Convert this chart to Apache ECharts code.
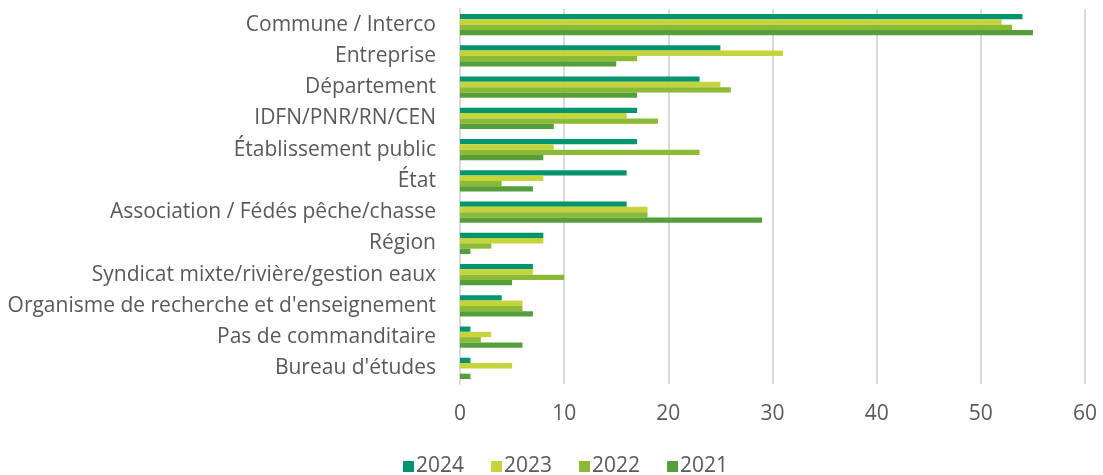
<!DOCTYPE html>
<html>
<head>
<meta charset="utf-8">
<script src="https://cdn.jsdelivr.net/npm/echarts@6/dist/echarts.min.js"></script>
<style>html,body{margin:0;padding:0;background:#fff;}#c{width:1103px;height:475px;}</style>
</head>
<body>
<div id="c"></div>
<script>
var categories = ["Commune / Interco","Entreprise","Département","IDFN/PNR/RN/CEN","Établissement public","État","Association / Fédés pêche/chasse","Région","Syndicat mixte/rivière/gestion eaux","Organisme de recherche et d'enseignement","Pas de commanditaire","Bureau d'études"];
var s2024 = [54,25,23,17,17,16,16,8,7,4,1,1];
var s2023 = [52,31,25,16,9,8,18,8,7,6,3,5];
var s2022 = [53,17,26,19,23,4,18,3,10,6,2,0];
var s2021 = [55,15,17,9,8,7,29,1,5,7,6,1];
var xTicks = [0,10,20,30,40,50,60];

var font = "'Open Sans', 'Liberation Sans', sans-serif";
var chart = echarts.init(document.getElementById('c'));
function mk(name, data, color){
  return {name:name, type:'bar', data:data, barGap:'0%', barCategoryGap:'32%',
    itemStyle:{color:color}};
}
chart.setOption({
  animation:false,
  textStyle:{fontFamily:font},
  grid:{left:460, right:18, top:9, bottom:91, containLabel:false},
  legend:{top:451, left:398, itemWidth:11, itemHeight:11, itemGap:27,
    icon:'rect', textStyle:{fontSize:21, color:'#595959', fontFamily:font, padding:[0,0,0,-3]},
    data:['2024','2023','2022','2021']},
  xAxis:{type:'value', min:xTicks[0], max:xTicks[xTicks.length-1], interval:10,
    axisLine:{show:false}, axisTick:{show:false},
    axisLabel:{fontSize:21, color:'#595959', margin:20},
    splitLine:{lineStyle:{color:'#d9d9d9', width:2}}},
  yAxis:{type:'category', data:categories, inverse:true,
    axisLine:{show:true, lineStyle:{color:'#d9d9d9', width:2}}, axisTick:{show:false},
    axisLabel:{fontSize:21, color:'#595959', margin:24}},
  series:[mk('2024',s2024,'#00956f'), mk('2023',s2023,'#c5d43a'), mk('2022',s2022,'#8cba34'), mk('2021',s2021,'#559f3a')]
});
</script>
</body>
</html>
